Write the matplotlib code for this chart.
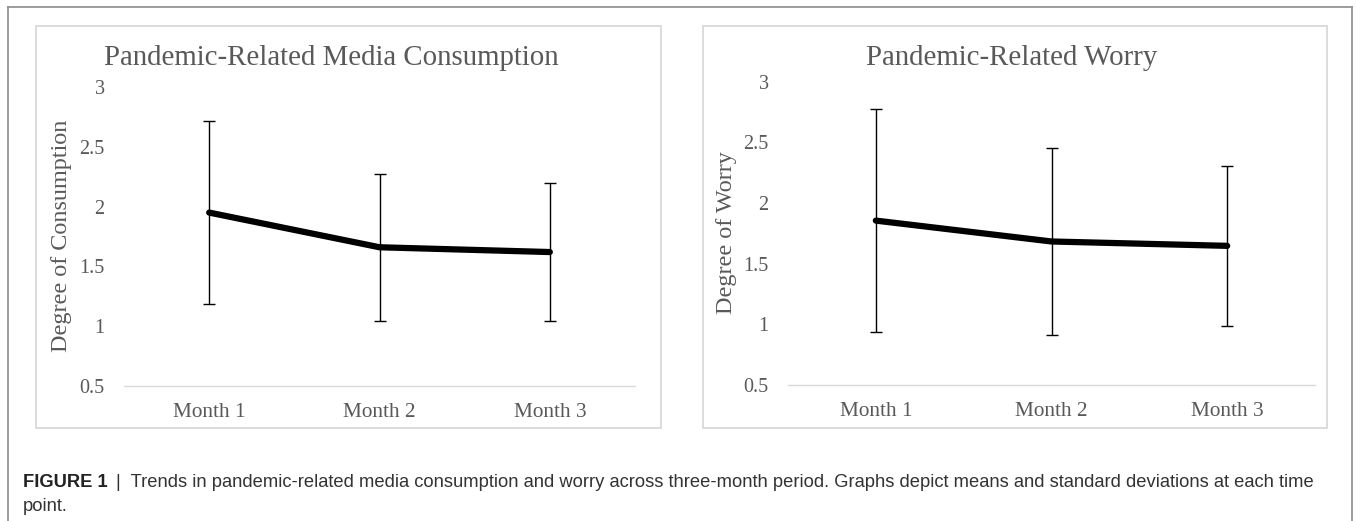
import matplotlib.pyplot as plt
from matplotlib.patches import Rectangle
from matplotlib.lines import Line2D

# data
months = ['Month 1', 'Month 2', 'Month 3']
media_mean = [1.95, 1.66, 1.62]
media_sd = [0.765, 0.615, 0.575]
worry_mean = [1.855, 1.683, 1.647]
worry_sd = [0.92, 0.771, 0.658]
yticks = [0.5, 1, 1.5, 2, 2.5, 3]
ytick_labels = ['0.5', '1', '1.5', '2', '2.5', '3']

W, H = 1356, 521
fig = plt.figure(figsize=(W / 100, H / 100), dpi=100)

serif = 'Liberation Serif'
sans = 'Liberation Sans'
gray = '#595959'


def fx(x):
    return x / W


def fy(y):
    return 1 - y / H


# outer frame (open at the bottom)
for xs, ys in [([8, 8], [7, H + 5]), ([1352, 1352], [7, H + 5]), ([8, 1352], [7, 7])]:
    fig.add_artist(Line2D([fx(v) for v in xs], [fy(v) for v in ys],
                          color='#8c8c8c', lw=1.2))

# chart area boxes
for x0, x1 in [(36, 661), (703, 1327)]:
    fig.add_artist(Rectangle((fx(x0), fy(428)), fx(x1 - x0), (428 - 26) / H,
                             fill=False, edgecolor='#d9d9d9', lw=1.3))


def panel(rect, means, sds, title, title_xy, ylabel, ylabel_xy):
    ax = fig.add_axes(rect)
    x = list(range(len(months)))
    ax.errorbar(x, means, yerr=sds, color='black', lw=4.5,
                solid_capstyle='round', elinewidth=1.0, capsize=4, capthick=1.0)
    ax.set_xlim(-0.5, 2.5)
    ax.set_ylim(0.5, 3)
    ax.set_yticks(yticks)
    ax.set_yticklabels(ytick_labels)
    ax.set_xticks(x)
    ax.set_xticklabels(months)
    for s in ['top', 'left', 'right']:
        ax.spines[s].set_visible(False)
    ax.spines['bottom'].set_color('#d9d9d9')
    ax.spines['bottom'].set_linewidth(1.0)
    ax.spines['bottom'].set_zorder(0)
    ax.tick_params(axis='both', length=0, colors=gray)
    ax.tick_params(axis='y', pad=14, labelsize=14.5)
    ax.tick_params(axis='x', pad=12, labelsize=15.3)
    for lab in ax.get_xticklabels() + ax.get_yticklabels():
        lab.set_family(serif)
    ax.patch.set_alpha(0)
    fig.text(fx(title_xy[0]), fy(title_xy[1]), title, ha='center', va='baseline',
             family=serif, fontsize=20.8, color=gray)
    fig.text(fx(ylabel_xy[0]), fy(ylabel_xy[1]), ylabel, ha='center', va='center',
             rotation=90, family=serif, fontsize=17.4, color=gray)
    return ax


panel([fx(124), fy(386), (635 - 124) / W, (386 - 87) / H], media_mean, media_sd,
      'Pandemic-Related Media Consumption', (331, 65),
      'Degree of Consumption', (61, 236))
panel([fx(788), fy(385), (1315 - 788) / W, (385 - 81.7) / H], worry_mean, worry_sd,
      'Pandemic-Related Worry', (1012, 65),
      'Degree of Worry', (726, 233))

# caption
renderer = fig.canvas.get_renderer()
t1 = fig.text(fx(23), fy(487), 'FIGURE 1', family=sans, weight='bold',
              fontsize=13.2, color='#222222', va='baseline')
bb = t1.get_window_extent(renderer)
fig.text(fx(bb.x1 + 8), fy(487),
         '|  Trends in pandemic-related media consumption and worry across three-month period. '
         'Graphs depict means and standard deviations at each time',
         family=sans, fontsize=13.2, color='#333333', va='baseline')
fig.text(fx(23), fy(511), 'point.', family=sans, fontsize=13.2, color='#333333',
         va='baseline')

fig.savefig('out.png', dpi=100)
